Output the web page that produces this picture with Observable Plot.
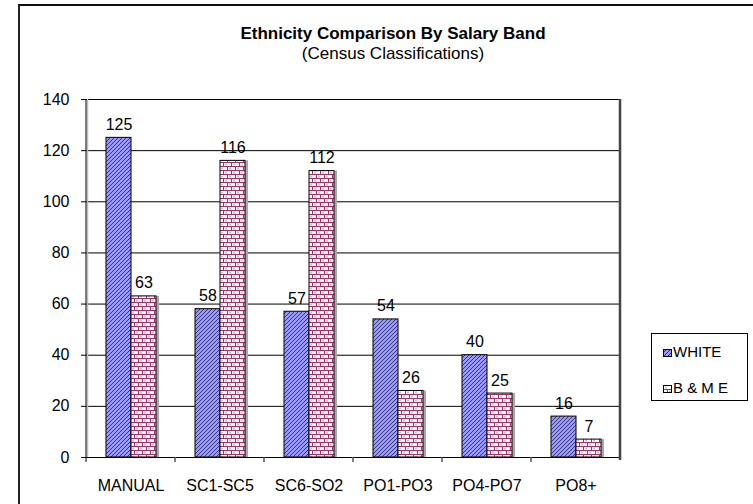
<!DOCTYPE html>
<html>
<head>
<meta charset="utf-8">
<script src="https://cdn.jsdelivr.net/npm/d3@7"></script>
<script src="https://cdn.jsdelivr.net/npm/@observablehq/plot@0.6"></script>
<style>
  html, body { margin: 0; padding: 0; background: #fff; }
  body { font-family: Arial, "Liberation Sans", sans-serif; }
  #wrap { position: relative; width: 753px; height: 504px; overflow: hidden; background: #fff; }
  #frame { position: absolute; left: 18px; top: 4px; width: 800px; height: 600px;
           border-left: 2px solid #222; border-top: 2px solid #111; pointer-events: none; }
  #title { height: 70px; box-sizing: border-box; padding-top: 24px; margin-left: 33px; width: 720px;
           text-align: center; font-size: 17px; line-height: 20px; color: #000; }
  #title .main { font-weight: bold; }
  #legend { position: absolute; left: 651px; top: 333px; width: 95px; height: 66px;
            border: 1px solid #000; background: #fff; font-size: 15px; color: #000; }
  #legend .item { position: absolute; left: 11px; height: 18px; line-height: 18px; white-space: nowrap; }
  #legend .item svg { vertical-align: baseline; margin-right: 1px; }
  #chart svg { display: block; }
</style>
</head>
<body>
<!-- fill patterns shared by the bars and the legend swatches -->
<svg width="0" height="0" style="position:absolute">
  <defs>
    <pattern id="pat-white" patternUnits="userSpaceOnUse" width="4" height="4">
      <rect width="4" height="4" fill="#9999ff"></rect>
      <path d="M-1,1 L1,-1 M0,4 L4,0 M3,5 L5,3" stroke="#2a2a66" stroke-width="0.9"></path>
    </pattern>
    <pattern id="pat-bme" patternUnits="userSpaceOnUse" width="8" height="8">
      <rect width="8" height="8" fill="#ffffff"></rect>
      <rect x="2" y="1.5" width="2" height="2" fill="#e3b6cc"></rect>
      <rect x="6" y="5.5" width="2" height="2" fill="#e3b6cc"></rect>
      <path d="M0,0.5 H8 M0,4.5 H8 M0.5,0 V4 M4.5,4 V8" stroke="#993366" stroke-width="1"></path>
    </pattern>
  </defs>
</svg>

<div id="wrap">
  <div id="title">
    <div class="main">Ethnicity Comparison By Salary Band</div>
    <div>(Census Classifications)</div>
  </div>
  <div id="chart"></div>
  <div id="legend"></div>
  <div id="frame"></div>
</div>

<script>
// Staff counts per salary band, by ethnicity
const categories = ["MANUAL", "SC1-SC5", "SC6-SO2", "PO1-PO3", "PO4-PO7", "PO8+"];
const seriesNames = ["WHITE", "B & M E"];
const whiteCounts = [125, 58, 57, 54, 40, 16];
const bmeCounts = [63, 116, 112, 26, 25, 7];
const yTicks = [0, 20, 40, 60, 80, 100, 120, 140];

const seriesFill = {"WHITE": "url(#pat-white)", "B & M E": "url(#pat-bme)"};

const rows = [];
categories.forEach((band, i) => {
  rows.push({band, series: seriesNames[0], value: whiteCounts[i]});
  rows.push({band, series: seriesNames[1], value: bmeCounts[i]});
});
const bmeRows = rows.filter(d => d.series === seriesNames[1]);

const chart = Plot.plot({
  width: 753,
  height: 434,
  marginTop: 29,
  marginBottom: 47,
  marginLeft: 84,
  marginRight: 131,
  style: {fontFamily: "Arial, 'Liberation Sans', sans-serif", fontSize: "16px", color: "#000", background: "transparent"},
  fx: {domain: categories, padding: 0, label: null, tickSize: 0, tickPadding: 22},
  x: {domain: seriesNames, paddingInner: 0, paddingOuter: 0.725, axis: null},
  y: {domain: [0, 140], ticks: yTicks, label: null, tickSize: 5, tickPadding: 12},
  marks: [
    Plot.gridY(yTicks, {stroke: "#000", strokeOpacity: 1, strokeWidth: 1}),
    // depth shading beside the B & M E columns
    Plot.barY(bmeRows, {fx: "band", x: "series", y: "value", fill: "#a8a8a8", dx: 3}),
    Plot.barY(rows, {
      fx: "band", x: "series", y: "value",
      fill: d => seriesFill[d.series],
      stroke: "#000", strokeWidth: 1
    }),
    Plot.text(rows, {
      fx: "band", x: "series", y: "value", text: d => String(d.value),
      lineAnchor: "bottom", dy: -8, fontSize: 16, fill: "#000"
    }),
    Plot.ruleY([0], {stroke: "#000", strokeWidth: 1})
  ]
});

// Value axis line, plot-area right edge and category separator ticks
const fxScale = chart.scale("fx");
const yScale = chart.scale("y");
const y0 = yScale.apply(0);
const yTop = yScale.apply(140);
const bounds = categories.map(c => fxScale.apply(c));
bounds.push(bounds[bounds.length - 1] + fxScale.bandwidth);
const g = d3.select(chart).append("g");
g.append("line")
  .attr("x1", bounds[0] + 1.5).attr("x2", bounds[0] + 1.5)
  .attr("y1", yTop).attr("y2", y0)
  .attr("stroke", "#bdbdbd").attr("stroke-width", 1.5);
g.append("line")
  .attr("x1", bounds[0]).attr("x2", bounds[0])
  .attr("y1", yTop).attr("y2", y0 + 5)
  .attr("stroke", "#000").attr("stroke-width", 1);
g.append("line")
  .attr("x1", bounds[bounds.length - 1]).attr("x2", bounds[bounds.length - 1])
  .attr("y1", yTop).attr("y2", y0 + 3)
  .attr("stroke", "#444").attr("stroke-width", 2.5);
g.selectAll("line.sep").data(bounds.slice(1, -1)).join("line")
  .attr("class", "sep")
  .attr("x1", d => d).attr("x2", d => d)
  .attr("y1", y0).attr("y2", y0 + 5)
  .attr("stroke", "#555").attr("stroke-width", 1.5);

document.getElementById("chart").appendChild(chart);

// Legend
const legend = d3.select("#legend");
const legendTops = [9, 45];
seriesNames.forEach((name, i) => {
  const item = legend.append("div").attr("class", "item").style("top", legendTops[i] + "px");
  const sw = item.append("svg").attr("width", 9).attr("height", 8);
  sw.append("rect").attr("x", 0.5).attr("y", 0.5).attr("width", 8).attr("height", 7)
    .attr("fill", seriesFill[name]).attr("stroke", "#000").attr("stroke-width", 1);
  item.append("span").text(name);
});
</script>
</body>
</html>
